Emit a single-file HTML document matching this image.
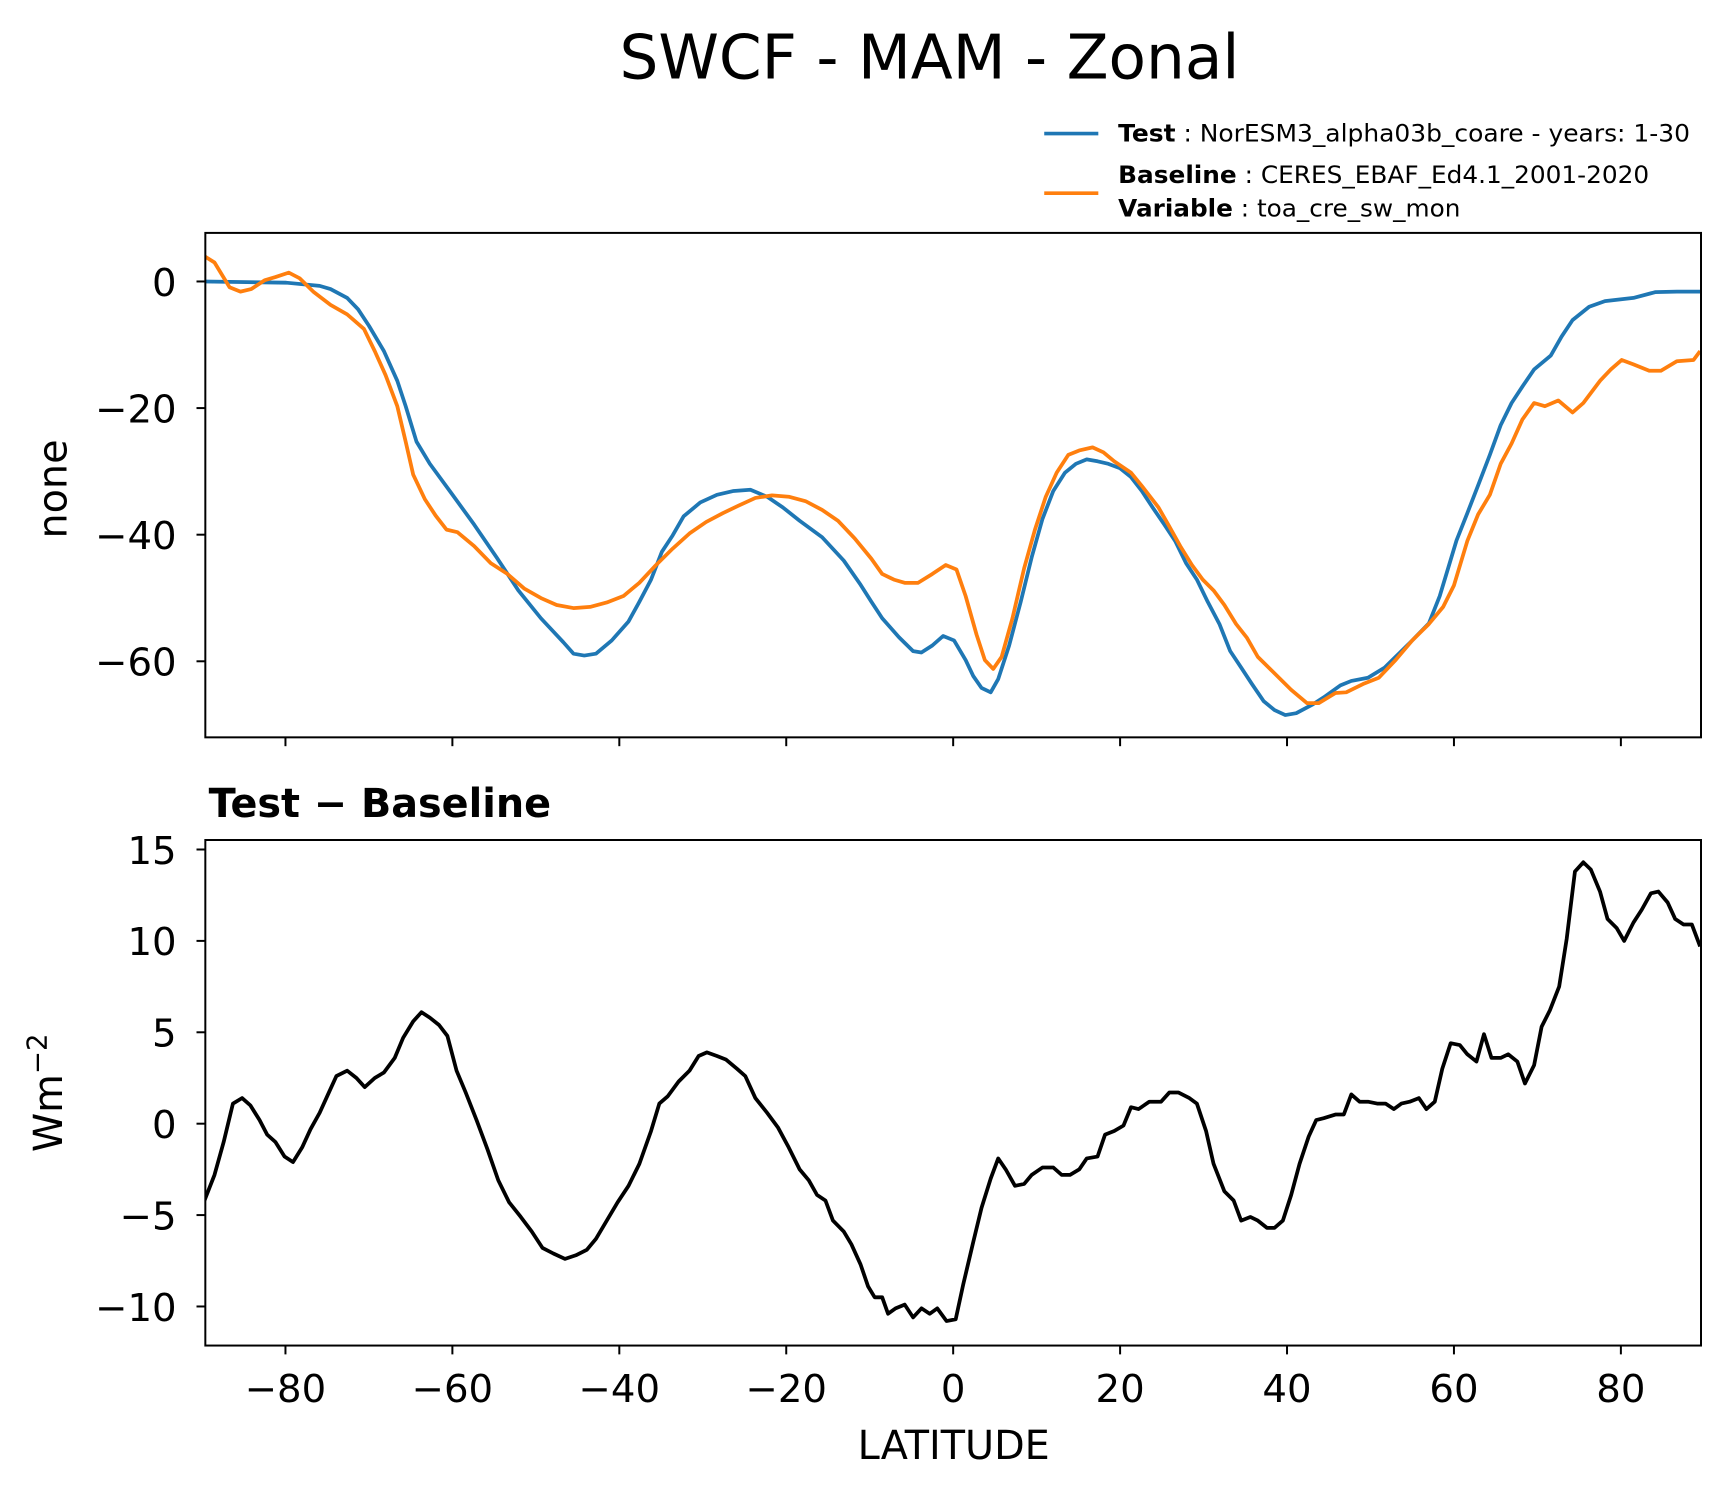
<!DOCTYPE html>
<html><head><meta charset="utf-8"><style>
html,body{margin:0;padding:0;background:#fff;}
svg{display:block;font-family:"DejaVu Sans","Liberation Sans",sans-serif;}
</style></head><body>
<svg id="fig" width="1722" height="1496" viewBox="0 0 1560 1355.3" xmlns="http://www.w3.org/2000/svg">
<rect x="0" y="0" width="1560" height="1356" fill="#fff"/>
<text x="842" y="71" font-size="55.5" text-anchor="middle">SWCF - MAM - Zonal</text>
<g>
  <line x1="946" y1="121" x2="995" y2="121" stroke="#1f77b4" stroke-width="3.3"/>
  <text x="1013" y="128" font-size="22" textLength="518" lengthAdjust="spacingAndGlyphs"><tspan font-weight="bold">Test</tspan> : NorESM3_alpha03b_coare - years: 1-30</text>
  <line x1="946" y1="175" x2="995" y2="175" stroke="#ff7f0e" stroke-width="3.3"/>
  <text x="1013" y="166" font-size="22" textLength="481" lengthAdjust="spacingAndGlyphs"><tspan font-weight="bold">Baseline</tspan> : CERES_EBAF_Ed4.1_2001-2020</text>
  <text x="1013" y="196" font-size="22" textLength="310" lengthAdjust="spacingAndGlyphs"><tspan font-weight="bold">Variable</tspan> : toa_cre_sw_mon</text>
</g>
<g id="top"></g>
<g id="bot"></g>
<text transform="translate(60,443) rotate(-90)" font-size="36" text-anchor="middle">none</text>
<text transform="translate(56,990) rotate(-90)" font-size="36" text-anchor="middle">Wm<tspan dy="-14" font-size="25">−2</tspan></text>
<text x="189" y="740" font-size="36" font-weight="bold">Test − Baseline</text>
<text x="864" y="1322" font-size="36" text-anchor="middle">LATITUDE</text>
</svg>
<script>
const xTicks = [-80,-60,-40,-20,0,20,40,60,80];
const topYTicks = [0,-20,-40,-60];
const botYTicks = [15,10,5,0,-5,-10];

const testLat = [-89.7,-79.9,-75.9,-74.6,-72.6,-71.3,-70.0,-68.2,-66.6,-65.6,-64.3,-62.7,-60.1,-57.4,-54.7,-52.1,-49.4,-46.7,-45.5,-44.2,-42.8,-40.9,-38.9,-37.6,-36.2,-34.9,-33.6,-32.3,-30.3,-28.3,-26.3,-24.3,-22.3,-20.4,-18.4,-15.7,-13.1,-11.1,-9.8,-8.5,-6.5,-4.8,-3.8,-2.5,-1.2,0.1,1.5,2.4,3.4,4.5,5.4,6.7,8.1,9.4,10.7,12.0,13.4,14.7,16.0,17.3,18.6,20.0,21.3,22.6,23.9,25.3,26.6,27.9,29.2,30.5,31.9,33.2,34.5,35.8,37.2,38.5,39.8,41.1,43.1,44.4,46.4,47.7,49.7,51.7,53.0,55.0,57.0,58.3,60.3,61.6,62.9,64.3,65.6,66.9,68.2,69.6,71.6,72.9,74.2,76.2,78.1,81.5,84.1,86.7,89.5];
const testVal = [0,-0.2,-0.7,-1.2,-2.6,-4.4,-7.0,-11.0,-15.7,-19.7,-25.3,-28.8,-33.5,-38.4,-43.6,-48.8,-53.2,-57.0,-58.8,-59.1,-58.8,-56.7,-53.7,-50.6,-47.1,-42.7,-40.1,-37.1,-34.9,-33.7,-33.1,-32.9,-34.0,-35.7,-37.8,-40.4,-44.1,-47.9,-50.6,-53.2,-56.2,-58.4,-58.6,-57.5,-56.0,-56.7,-59.8,-62.3,-64.2,-64.9,-62.8,-57.5,-50.6,-43.6,-37.5,-33.1,-30.2,-28.8,-28.1,-28.4,-28.8,-29.5,-30.9,-33.1,-35.7,-38.4,-41.0,-44.5,-47.1,-50.6,-54.1,-58.4,-61.0,-63.6,-66.3,-67.7,-68.5,-68.2,-66.8,-65.7,-63.8,-63.1,-62.6,-61.0,-59.3,-56.7,-54.0,-49.7,-40.9,-36.6,-32.2,-27.4,-22.7,-19.2,-16.6,-13.9,-11.7,-8.7,-6.1,-4.0,-3.1,-2.6,-1.7,-1.6,-1.6];

const baseLat = [-89.7,-88.5,-86.7,-85.4,-84.1,-82.5,-81.2,-79.6,-78.3,-76.6,-74.6,-72.6,-70.6,-69.3,-68.0,-66.6,-65.6,-64.7,-63.3,-62.0,-60.7,-59.4,-57.4,-55.4,-53.4,-51.4,-49.4,-47.5,-45.5,-43.5,-41.5,-39.5,-37.6,-35.6,-33.6,-31.6,-29.6,-27.6,-25.7,-23.7,-21.7,-19.7,-17.7,-15.7,-13.8,-11.8,-9.8,-8.5,-7.1,-5.8,-4.2,-2.5,-0.9,0.4,1.5,2.8,3.8,4.8,5.8,7.1,8.5,9.8,11.1,12.4,13.8,15.1,16.7,18.0,19.3,21.3,22.6,24.6,25.9,27.2,28.6,29.9,31.2,32.5,33.9,35.2,36.5,38.5,40.5,42.4,43.8,45.8,47.1,49.1,51.0,53.0,55.0,57.0,58.7,60.0,61.6,62.9,64.3,65.6,66.9,68.2,69.6,70.9,72.5,74.2,75.5,77.5,78.8,80.1,81.5,83.4,84.8,86.7,88.7,89.5];
const baseVal = [4.0,3.0,-0.9,-1.6,-1.2,0.2,0.7,1.4,0.5,-1.7,-3.7,-5.2,-7.5,-11.0,-14.8,-19.7,-25.3,-30.5,-34.4,-37.0,-39.2,-39.6,-41.8,-44.5,-46.2,-48.5,-50.0,-51.1,-51.6,-51.4,-50.7,-49.7,-47.6,-44.8,-42.2,-39.8,-38.0,-36.6,-35.4,-34.2,-33.8,-34.0,-34.7,-36.1,-37.8,-40.6,-43.8,-46.2,-47.1,-47.6,-47.6,-46.2,-44.8,-45.5,-49.7,-55.8,-59.8,-61.2,-59.3,-53.2,-45.3,-39.2,-34.0,-30.2,-27.4,-26.7,-26.2,-27.0,-28.4,-30.2,-32.3,-35.7,-38.7,-41.8,-44.8,-47.1,-48.8,-51.1,-54.1,-56.3,-59.3,-61.9,-64.5,-66.6,-66.6,-65.0,-64.9,-63.6,-62.6,-59.8,-56.7,-54.1,-51.4,-48.0,-41.0,-36.8,-33.7,-28.8,-25.6,-21.8,-19.2,-19.7,-18.8,-20.7,-19.2,-15.7,-13.9,-12.4,-13.1,-14.1,-14.1,-12.6,-12.4,-11.0];

const diffLat = [-89.7,-88.5,-87.4,-86.3,-85.2,-84.2,-83.1,-82.2,-81.2,-80.1,-79.1,-78.0,-77.0,-75.9,-74.8,-73.9,-72.6,-71.5,-70.5,-69.3,-68.2,-66.9,-65.9,-64.7,-63.7,-62.7,-61.6,-60.6,-59.5,-58.4,-57.1,-55.8,-54.5,-53.2,-51.8,-50.5,-49.2,-47.9,-46.5,-45.2,-43.9,-42.8,-41.5,-40.2,-38.9,-37.6,-36.2,-35.2,-34.2,-32.9,-31.6,-30.5,-29.5,-28.3,-27.2,-25.9,-24.9,-23.7,-22.3,-21.0,-19.7,-18.4,-17.3,-16.3,-15.3,-14.4,-13.1,-12.2,-11.1,-10.2,-9.4,-8.5,-7.8,-6.9,-5.8,-4.8,-3.8,-2.8,-1.9,-0.8,0.3,1.2,2.4,3.4,4.5,5.4,6.3,7.4,8.5,9.4,10.7,12.0,13.0,14.0,15.1,16.0,17.3,18.2,19.3,20.4,21.3,22.2,23.5,24.9,25.9,27.0,28.3,29.2,30.3,31.2,32.5,33.6,34.5,35.6,36.5,37.6,38.5,39.5,40.5,41.5,42.6,43.5,44.4,45.8,46.8,47.7,48.7,49.7,50.8,51.8,52.8,53.7,54.7,55.8,56.7,57.7,58.6,59.6,60.7,61.6,62.7,63.6,64.5,65.6,66.5,67.6,68.5,69.6,70.5,71.5,72.6,73.5,74.5,75.5,76.4,77.5,78.4,79.5,80.4,81.5,82.5,83.6,84.5,85.6,86.5,87.5,88.5,89.5];
const diffVal = [-4.2,-2.8,-1.0,1.1,1.4,1.0,0.2,-0.6,-1.0,-1.8,-2.1,-1.3,-0.3,0.6,1.7,2.6,2.9,2.5,2.0,2.5,2.8,3.6,4.7,5.6,6.1,5.8,5.4,4.8,2.9,1.7,0.2,-1.4,-3.1,-4.3,-5.1,-5.9,-6.8,-7.1,-7.4,-7.2,-6.9,-6.3,-5.3,-4.3,-3.4,-2.2,-0.4,1.1,1.5,2.3,2.9,3.7,3.9,3.7,3.5,3.0,2.6,1.4,0.6,-0.2,-1.3,-2.5,-3.1,-3.9,-4.2,-5.3,-5.9,-6.6,-7.7,-8.9,-9.5,-9.5,-10.4,-10.1,-9.9,-10.6,-10.1,-10.4,-10.1,-10.8,-10.7,-8.8,-6.5,-4.6,-3.0,-1.9,-2.5,-3.4,-3.3,-2.8,-2.4,-2.4,-2.8,-2.8,-2.5,-1.9,-1.8,-0.6,-0.4,-0.1,0.9,0.8,1.2,1.2,1.7,1.7,1.4,1.1,-0.4,-2.2,-3.7,-4.2,-5.3,-5.1,-5.3,-5.7,-5.7,-5.3,-3.9,-2.2,-0.7,0.2,0.3,0.5,0.5,1.6,1.2,1.2,1.1,1.1,0.8,1.1,1.2,1.4,0.8,1.2,3.0,4.4,4.3,3.8,3.4,4.9,3.6,3.6,3.8,3.4,2.2,3.2,5.3,6.2,7.5,10.1,13.8,14.3,13.9,12.7,11.2,10.7,10.0,11.0,11.7,12.6,12.7,12.1,11.2,10.9,10.9,9.7];

const NS = 'http://www.w3.org/2000/svg';
const X0 = 186, X1 = 1541;
function xScale(lat){ return X0 + (lat + 89.6) / 179.2 * (X1 - X0); }
function topY(v){ return 255 - v * 5.735; }
function botY(v){ return 1018 - v * 16.56; }
function mk(tag, attrs, parent){ const e = document.createElementNS(NS, tag); for (const k in attrs) e.setAttribute(k, attrs[k]); parent.appendChild(e); return e; }

function panel(g, top, bottom, ys, yTicks, showXLabels, prefix){
  for (const t of yTicks){
    const y = ys(t);
    const tk = mk('line', {x1: X0 - 8, x2: X0, y1: y, y2: y, stroke: '#000', 'stroke-width': 1.8}, g);
    
    
    const tl = mk('text', {x: X0 - 26, y: y + 13, 'font-size': 35, 'text-anchor': 'end'}, g);
    tl.textContent = String(t).replace('-', '−');
    
    
  }
  for (const t of xTicks){
    const x = xScale(t);
    const tk = mk('line', {x1: x, x2: x, y1: bottom, y2: bottom + 8, stroke: '#000', 'stroke-width': 1.8}, g);
    
    
    if (showXLabels){
      const tl = mk('text', {x: x, y: bottom + 51, 'font-size': 35, 'text-anchor': 'middle'}, g);
      tl.textContent = String(t).replace('-', '−');
      
      
    }
  }
}
function series(g, lats, vals, ys, color, name, top, bottom){
  const d = lats.map((l, i) => (i ? 'L' : 'M') + xScale(l).toFixed(1) + ' ' + ys(vals[i]).toFixed(1)).join(' ');
  const cid = name + '-clip';
  const cp = mk('clipPath', {id: cid}, g);
  mk('rect', {x: X0, y: top, width: X1 - X0, height: bottom - top}, cp);
  const p = mk('path', {d: d, fill: 'none', stroke: color, 'stroke-width': 3.4, 'stroke-linejoin': 'round', 'clip-path': 'url(#' + cid + ')'}, g);
  
  
}
function frame(g, top, bottom, name){
  const r = mk('rect', {x: X0, y: top, width: X1 - X0, height: bottom - top, fill: 'none', stroke: '#000', 'stroke-width': 1.8}, g);
  
  
}

const gt = document.getElementById('top');
series(gt, testLat, testVal, topY, '#1f77b4', 'test-line', 211, 668);
series(gt, baseLat, baseVal, topY, '#ff7f0e', 'baseline-line', 211, 668);
panel(gt, 211, 668, topY, topYTicks, false, 'top');
frame(gt, 211, 668, 'top-axes-frame');

const gb = document.getElementById('bot');
series(gb, diffLat, diffVal, botY, '#000', 'difference-line', 761, 1219);
panel(gb, 761, 1219, botY, botYTicks, true, 'bottom');
frame(gb, 761, 1219, 'bottom-axes-frame');
</script>
</body></html>
